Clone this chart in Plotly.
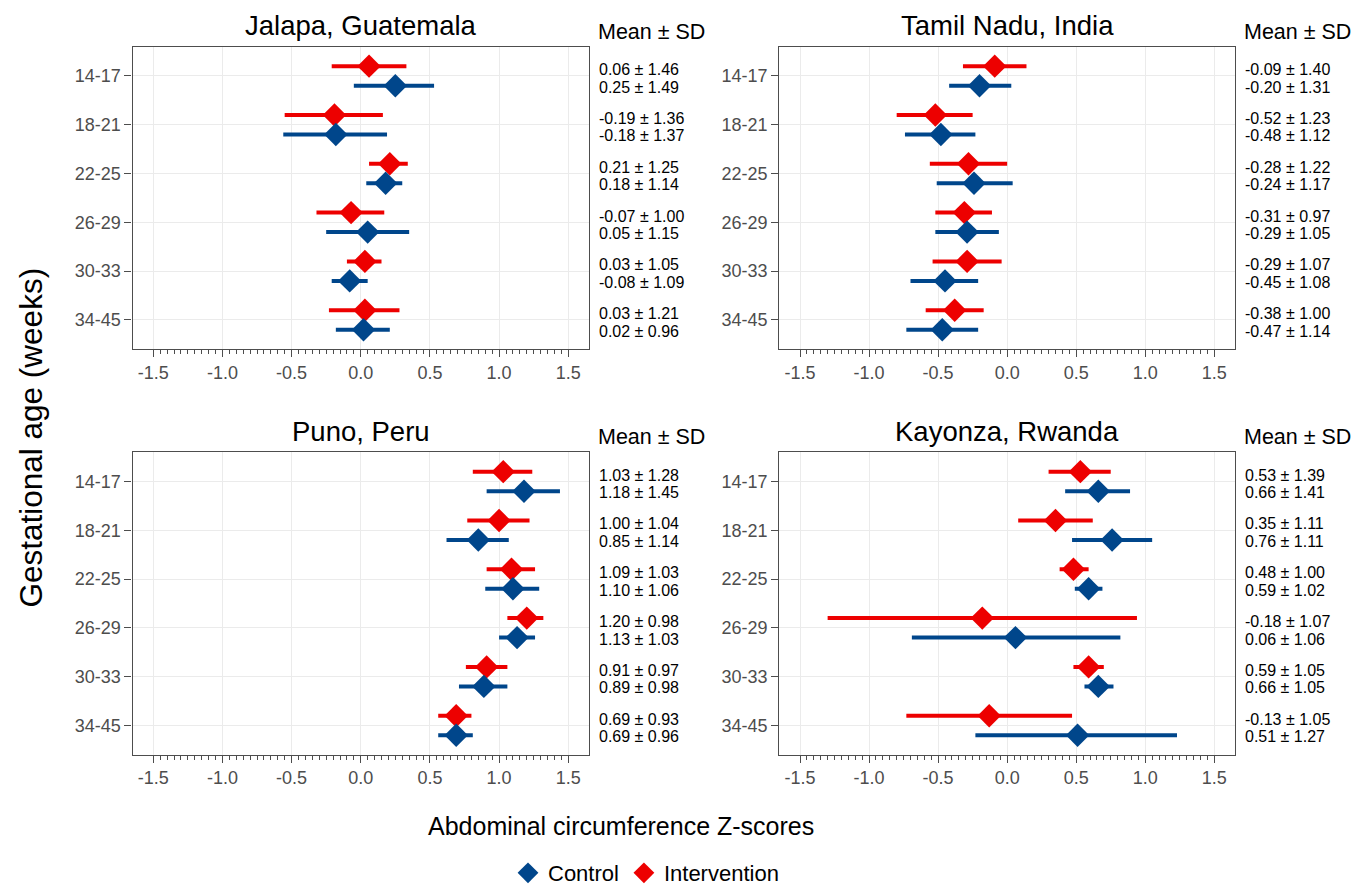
import plotly.graph_objects as go
import numpy as np

categories = ["14-17", "18-21", "22-25", "26-29", "30-33", "34-45"]
sites = ["Jalapa, Guatemala", "Tamil Nadu, India", "Puno, Peru", "Kayonza, Rwanda"]

# Jalapa, Guatemala
jal_int_mean = [0.06, -0.19, 0.21, -0.07, 0.03, 0.03]
jal_int_sd = [1.46, 1.36, 1.25, 1.00, 1.05, 1.21]
jal_int_lo = [-0.21, -0.55, 0.06, -0.32, -0.10, -0.23]
jal_int_hi = [0.33, 0.16, 0.34, 0.17, 0.15, 0.28]
jal_ctl_mean = [0.25, -0.18, 0.18, 0.05, -0.08, 0.02]
jal_ctl_sd = [1.49, 1.37, 1.14, 1.15, 1.09, 0.96]
jal_ctl_lo = [-0.05, -0.56, 0.04, -0.25, -0.21, -0.18]
jal_ctl_hi = [0.53, 0.19, 0.30, 0.35, 0.05, 0.21]

# Tamil Nadu, India
tam_int_mean = [-0.09, -0.52, -0.28, -0.31, -0.29, -0.38]
tam_int_sd = [1.40, 1.23, 1.22, 0.97, 1.07, 1.00]
tam_int_lo = [-0.32, -0.80, -0.56, -0.52, -0.54, -0.59]
tam_int_hi = [0.14, -0.25, 0.00, -0.11, -0.04, -0.17]
tam_ctl_mean = [-0.20, -0.48, -0.24, -0.29, -0.45, -0.47]
tam_ctl_sd = [1.31, 1.12, 1.17, 1.05, 1.08, 1.14]
tam_ctl_lo = [-0.42, -0.74, -0.51, -0.52, -0.70, -0.73]
tam_ctl_hi = [0.03, -0.23, 0.04, -0.06, -0.21, -0.21]

# Puno, Peru
pun_int_mean = [1.03, 1.00, 1.09, 1.20, 0.91, 0.69]
pun_int_sd = [1.28, 1.04, 1.03, 0.98, 0.97, 0.93]
pun_int_lo = [0.81, 0.77, 0.91, 1.06, 0.76, 0.56]
pun_int_hi = [1.24, 1.22, 1.26, 1.32, 1.06, 0.80]
pun_ctl_mean = [1.18, 0.85, 1.10, 1.13, 0.89, 0.69]
pun_ctl_sd = [1.45, 1.14, 1.06, 1.03, 0.98, 0.96]
pun_ctl_lo = [0.91, 0.62, 0.90, 1.00, 0.71, 0.56]
pun_ctl_hi = [1.44, 1.07, 1.29, 1.26, 1.06, 0.81]

# Kayonza, Rwanda
kay_int_mean = [0.53, 0.35, 0.48, -0.18, 0.59, -0.13]
kay_int_sd = [1.39, 1.11, 1.00, 1.07, 1.05, 1.05]
kay_int_lo = [0.30, 0.08, 0.38, -1.30, 0.48, -0.73]
kay_int_hi = [0.75, 0.62, 0.59, 0.94, 0.70, 0.47]
kay_ctl_mean = [0.66, 0.76, 0.59, 0.06, 0.66, 0.51]
kay_ctl_sd = [1.41, 1.11, 1.02, 1.06, 1.05, 1.27]
kay_ctl_lo = [0.42, 0.47, 0.49, -0.69, 0.56, -0.23]
kay_ctl_hi = [0.89, 1.05, 0.69, 0.82, 0.77, 1.23]

x_ticks = [-1.5, -1.0, -0.5, 0.0, 0.5, 1.0, 1.5]

panels = [
    (jal_int_mean, jal_int_sd, jal_int_lo, jal_int_hi, jal_ctl_mean, jal_ctl_sd, jal_ctl_lo, jal_ctl_hi),
    (tam_int_mean, tam_int_sd, tam_int_lo, tam_int_hi, tam_ctl_mean, tam_ctl_sd, tam_ctl_lo, tam_ctl_hi),
    (pun_int_mean, pun_int_sd, pun_int_lo, pun_int_hi, pun_ctl_mean, pun_ctl_sd, pun_ctl_lo, pun_ctl_hi),
    (kay_int_mean, kay_int_sd, kay_int_lo, kay_int_hi, kay_ctl_mean, kay_ctl_sd, kay_ctl_lo, kay_ctl_hi),
]

W, H = 1355, 894
FONT = "Arial, Liberation Sans, sans-serif"
BLUE = "#00468B"
RED = "#ED0000"


def px(x):
    return x / W


def py(y):
    return 1 - y / H


# panel pixel boxes (left, right) / (top, bottom)
xdoms = [(132.5, 589), (779.3, 1235)]
ydoms = [(47, 352), (455.7, 760.7)]

fig = go.Figure()
layout = dict()
annotations = []

pos = np.arange(len(categories))
DODGE = 0.2

for p, data in enumerate(panels):
    (im, isd, ilo, ihi, cm, csd, clo, chi) = data
    col = p % 2
    row = p // 2
    n = p + 1
    xa = "x" if n == 1 else f"x{n}"
    ya = "y" if n == 1 else f"y{n}"
    xl, xr = xdoms[col]
    yt, yb = ydoms[row]

    fig.add_trace(go.Scatter(
        x=im, y=pos - DODGE, mode="markers", name="Intervention",
        marker=dict(symbol="diamond", size=18, color=RED, line=dict(width=0)),
        error_x=dict(type="data", symmetric=False,
                     array=[h - m for h, m in zip(ihi, im)],
                     arrayminus=[m - l for m, l in zip(im, ilo)],
                     color=RED, thickness=4, width=0),
        xaxis=xa, yaxis=ya, showlegend=(p == 0), legendgroup="int", legendrank=2,
    ))
    fig.add_trace(go.Scatter(
        x=cm, y=pos + DODGE, mode="markers", name="Control",
        marker=dict(symbol="diamond", size=18, color=BLUE, line=dict(width=0)),
        error_x=dict(type="data", symmetric=False,
                     array=[h - m for h, m in zip(chi, cm)],
                     arrayminus=[m - l for m, l in zip(cm, clo)],
                     color=BLUE, thickness=4, width=0),
        xaxis=xa, yaxis=ya, showlegend=(p == 0), legendgroup="ctl", legendrank=1,
    ))

    xkey = "xaxis" if n == 1 else f"xaxis{n}"
    ykey = "yaxis" if n == 1 else f"yaxis{n}"
    layout[xkey] = dict(
        domain=[px(xl), px(xr)], anchor=ya, range=[-1.65, 1.65], automargin=False,
        tickmode="array", tickvals=x_ticks, ticktext=[f"{v:.1f}" for v in x_ticks],
        ticks="outside", ticklen=7, tickwidth=1, tickcolor="#4D4D4D",
        tickfont=dict(family=FONT, size=18, color="#4D4D4D"),
        showgrid=True, gridcolor="#EBEBEB", gridwidth=1, zeroline=False,
        showline=True, linecolor="#4D4D4D", linewidth=1.2, mirror=True,
        minor=dict(tickmode="array", tickvals=list(np.round(np.arange(-1.5, 1.5001, 0.05), 2)),
                   ticks="outside", ticklen=4, tickcolor="#4D4D4D", tickwidth=1, showgrid=False),
    )
    layout[ykey] = dict(
        domain=[py(yb), py(yt)], anchor=xa, range=[5.6, -0.6], automargin=False,
        tickmode="array", tickvals=list(pos), ticktext=categories,
        ticks="outside", ticklen=7, tickwidth=1, tickcolor="#4D4D4D",
        tickfont=dict(family=FONT, size=18, color="#4D4D4D"),
        showgrid=True, gridcolor="#EBEBEB", gridwidth=1, zeroline=False,
        showline=True, linecolor="#4D4D4D", linewidth=1.2, mirror=True,
    )

    annotations.append(dict(
        text=sites[p], x=px((xl + xr) / 2), y=py(yt - 21), xref="paper", yref="paper",
        xanchor="center", yanchor="middle", showarrow=False,
        font=dict(family=FONT, size=27.5, color="black"),
    ))
    annotations.append(dict(
        text="Mean ± SD", x=px(xr + 7), y=py(yt - 15), xref="paper", yref="paper",
        xanchor="left", yanchor="middle", showarrow=False,
        font=dict(family=FONT, size=21.5, color="black"),
    ))
    for i in range(len(categories)):
        annotations.append(dict(
            text=f"{im[i]:.2f} ± {isd[i]:.2f}", x=1, xref=f"{xa} domain", xshift=8,
            y=i - 0.13, yref=ya, xanchor="left", yanchor="middle", showarrow=False,
            font=dict(family=FONT, size=16, color="black"),
        ))
        annotations.append(dict(
            text=f"{cm[i]:.2f} ± {csd[i]:.2f}", x=1, xref=f"{xa} domain", xshift=8,
            y=i + 0.23, yref=ya, xanchor="left", yanchor="middle", showarrow=False,
            font=dict(family=FONT, size=16, color="black"),
        ))

annotations.append(dict(
    text="Abdominal circumference Z-scores", x=px(620.5), y=py(833), xref="paper", yref="paper",
    xanchor="center", yanchor="middle", showarrow=False,
    font=dict(family=FONT, size=25, color="black"),
))
annotations.append(dict(
    text="Gestational age (weeks)", x=px(31), y=py(441), xref="paper", yref="paper",
    xanchor="center", yanchor="middle", showarrow=False, textangle=-90,
    font=dict(family=FONT, size=31.5, color="black"),
))

fig.update_layout(
    width=W, height=H, margin=dict(l=0, r=0, t=0, b=0),
    plot_bgcolor="white", paper_bgcolor="white",
    hovermode=False,
    annotations=annotations,
    legend=dict(orientation="h", x=px(646), xanchor="center", y=py(880), yanchor="middle",
                font=dict(family=FONT, size=22, color="black"), itemwidth=30,
                traceorder="normal", bgcolor="rgba(0,0,0,0)"),
    **layout,
)

fig.write_html(
    "out.html",
    config={"displayModeBar": False},
    post_script="document.body.style.margin='0px';document.body.style.overflow='hidden';",
)
